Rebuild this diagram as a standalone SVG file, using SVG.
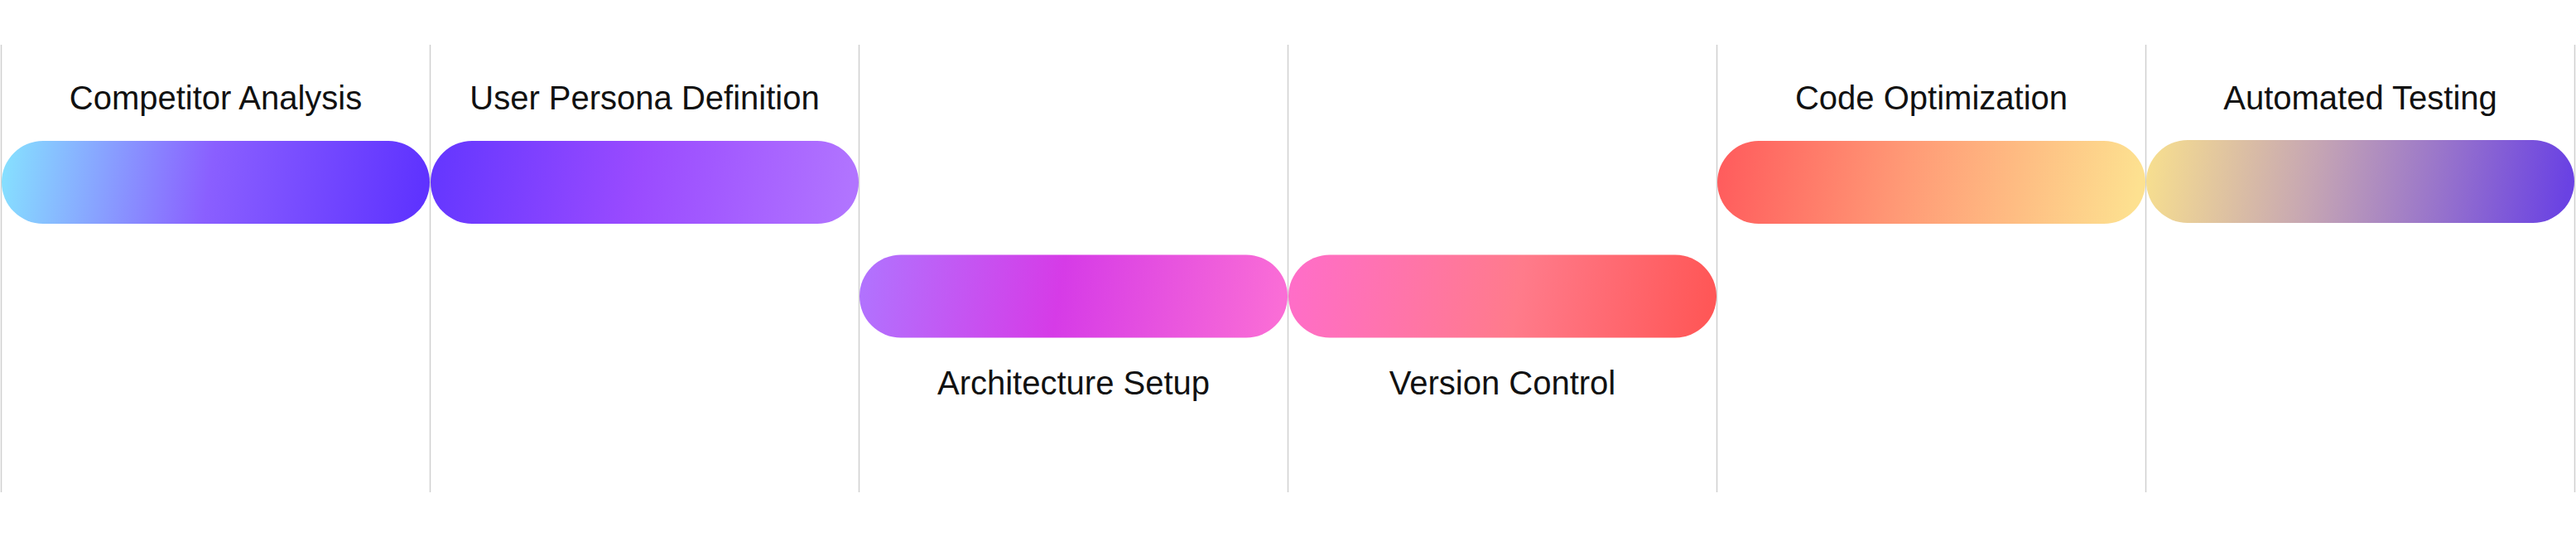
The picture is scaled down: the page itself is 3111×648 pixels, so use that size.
<svg xmlns="http://www.w3.org/2000/svg" width="3111" height="648" viewBox="0 0 3111 648">
  <style>
    .grid line { stroke: #d0d0d0; stroke-width: 1.5; }
    .label { font-family: "Liberation Sans", Arial, sans-serif; font-size: 40px; fill: #111111; text-anchor: middle; }
  </style>
  <defs>
    <linearGradient id="g1" x1="0" y1="0" x2="1" y2="0.03">
      <stop offset="0" stop-color="#86E3FF"/>
      <stop offset="0.5" stop-color="#8A5FFF"/>
      <stop offset="1" stop-color="#5F33FF"/>
    </linearGradient>
    <linearGradient id="g2" x1="0" y1="0" x2="1" y2="0.03">
      <stop offset="0" stop-color="#6336FF"/>
      <stop offset="0.5" stop-color="#9A4BFF"/>
      <stop offset="1" stop-color="#B174FF"/>
    </linearGradient>
    <linearGradient id="g3" x1="0" y1="0" x2="1" y2="0.03">
      <stop offset="0" stop-color="#B074FF"/>
      <stop offset="0.48" stop-color="#D63BE7"/>
      <stop offset="1" stop-color="#FA6DD6"/>
    </linearGradient>
    <linearGradient id="g4" x1="0" y1="0" x2="1" y2="0.03">
      <stop offset="0" stop-color="#FF6DCA"/>
      <stop offset="0.55" stop-color="#FF7B8B"/>
      <stop offset="1" stop-color="#FF5757"/>
    </linearGradient>
    <linearGradient id="g5" x1="0" y1="0" x2="1" y2="0.03">
      <stop offset="0" stop-color="#FF5A5C"/>
      <stop offset="0.45" stop-color="#FF9A76"/>
      <stop offset="1" stop-color="#FDE190"/>
    </linearGradient>
    <linearGradient id="g6" x1="0" y1="0" x2="1" y2="0.03">
      <stop offset="0" stop-color="#F8E08E"/>
      <stop offset="0.4" stop-color="#C6A6B3"/>
      <stop offset="1" stop-color="#6A42E3"/>
    </linearGradient>
  </defs>
  <rect width="3111" height="648" fill="#ffffff"/>
  <g id="connectors" class="grid">
    <line x1="1.5" y1="54" x2="1.5" y2="594"/>
    <line x1="519.5" y1="54" x2="519.5" y2="594"/>
    <line x1="1037.5" y1="54" x2="1037.5" y2="594"/>
    <line x1="1555.5" y1="54" x2="1555.5" y2="594"/>
    <line x1="2073.5" y1="54" x2="2073.5" y2="594"/>
    <line x1="2591.5" y1="54" x2="2591.5" y2="594"/>
    <line x1="3109.5" y1="54" x2="3109.5" y2="594"/>
  </g>
  <g id="competitor-analysis">
    <rect x="2" y="170" width="517" height="100" rx="50" ry="50" fill="url(#g1)"/>
    <text class="label" x="260.5" y="132">Competitor Analysis</text>
  </g>
  <g id="user-persona-definition">
    <rect x="520" y="170" width="517" height="100" rx="50" ry="50" fill="url(#g2)"/>
    <text class="label" x="778.5" y="132">User Persona Definition</text>
  </g>
  <g id="architecture-setup">
    <rect x="1038" y="307.5" width="517" height="100" rx="50" ry="50" fill="url(#g3)"/>
    <text class="label" x="1296.5" y="476">Architecture Setup</text>
  </g>
  <g id="version-control">
    <rect x="1556" y="307.5" width="517" height="100" rx="50" ry="50" fill="url(#g4)"/>
    <text class="label" x="1814.5" y="476">Version Control</text>
  </g>
  <g id="code-optimization">
    <rect x="2074" y="170" width="517" height="100" rx="50" ry="50" fill="url(#g5)"/>
    <text class="label" x="2332.5" y="132">Code Optimization</text>
  </g>
  <g id="automated-testing">
    <rect x="2592" y="169" width="517" height="100" rx="50" ry="50" fill="url(#g6)"/>
    <text class="label" x="2850.5" y="132">Automated Testing</text>
  </g>
</svg>
